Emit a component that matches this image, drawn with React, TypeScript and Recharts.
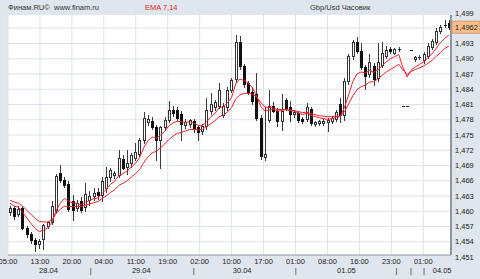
import { ComposedChart, Bar, Line, XAxis, YAxis, CartesianGrid, ReferenceArea } from 'recharts'

// hourly GBP/USD candles, 28.04 05:00 .. 04.05
const OPEN = [
  1.4598, 1.4606, 1.4594, 1.4606, 1.4568, 1.4556, 1.4543, 1.4535, 1.4545, 1.4572,
  1.4578, 1.4602, 1.4675, 1.4662, 1.4654, 1.4620, 1.4606, 1.4620, 1.4608, 1.4622,
  1.4630, 1.4638, 1.4632, 1.4645, 1.4668, 1.4672, 1.4672, 1.4703, 1.4688, 1.4694,
  1.4705, 1.4712, 1.4740, 1.4776, 1.4778, 1.4766, 1.4740, 1.4765, 1.4780, 1.4800,
  1.4800, 1.4792, 1.4770, 1.4772, 1.4778, 1.4765, 1.4758, 1.4768, 1.4797, 1.4806,
  1.4808, 1.4790, 1.4806, 1.4838, 1.4861, 1.4932, 1.4885, 1.4852, 1.4834, 1.4830,
  1.4784, 1.4706, 1.4780, 1.4808, 1.4798, 1.4778, 1.4818, 1.4806, 1.4792, 1.4794,
  1.4782, 1.4782, 1.4802, 1.4772, 1.4773, 1.4774, 1.4775, 1.4778, 1.4782, 1.4810,
  1.4790, 1.4856, 1.4905, 1.4932, 1.4915, 1.4884, 1.4870, 1.4886, 1.4862, 1.4888,
  1.4906, 1.4920, 1.4912, 1.4920, 1.4807, 1.4807, 1.4918, 1.4900, 1.4903, 1.4897,
  1.4906, 1.4924, 1.4932, 1.4954, 1.4966, 1.4970,
]
const HIGH = [
  1.4610, 1.4610, 1.4610, 1.4610, 1.4572, 1.4560, 1.4547, 1.4546, 1.4575, 1.4580,
  1.4620, 1.4674, 1.4691, 1.4668, 1.4660, 1.4632, 1.4622, 1.4628, 1.4655, 1.4640,
  1.4645, 1.4645, 1.4668, 1.4688, 1.4686, 1.4680, 1.4720, 1.4710, 1.4720, 1.4715,
  1.4735, 1.4744, 1.4795, 1.4790, 1.4785, 1.4770, 1.4768, 1.4785, 1.4816, 1.4808,
  1.4806, 1.4798, 1.4782, 1.4782, 1.4782, 1.4770, 1.4772, 1.4822, 1.4832, 1.4818,
  1.4852, 1.4812, 1.4845, 1.4862, 1.4946, 1.4944, 1.4890, 1.4856, 1.4845, 1.4872,
  1.4790, 1.4805, 1.4838, 1.4815, 1.4804, 1.4830, 1.4822, 1.4816, 1.4800, 1.4798,
  1.4786, 1.4812, 1.4806, 1.4778, 1.4780, 1.4782, 1.4784, 1.4788, 1.4800, 1.4822,
  1.4862, 1.4910, 1.4936, 1.4942, 1.4930, 1.4888, 1.4910, 1.4892, 1.4930, 1.4932,
  1.4926, 1.4924, 1.4922, 1.4924, 1.4807, 1.4807, 1.4918, 1.4906, 1.4907, 1.4914,
  1.4930, 1.4938, 1.4960, 1.4966, 1.4976, 1.4976,
]
const LOW = [
  1.4592, 1.4584, 1.4590, 1.4565, 1.4550, 1.4538, 1.4522, 1.4528, 1.4526, 1.4567,
  1.4575, 1.4598, 1.4658, 1.4648, 1.4600, 1.4583, 1.4600, 1.4598, 1.4600, 1.4612,
  1.4622, 1.4625, 1.4620, 1.4638, 1.4660, 1.4665, 1.4668, 1.4684, 1.4674, 1.4688,
  1.4700, 1.4708, 1.4735, 1.4770, 1.4762, 1.4700, 1.4685, 1.4760, 1.4776, 1.4788,
  1.4780, 1.4740, 1.4764, 1.4766, 1.4756, 1.4740, 1.4752, 1.4762, 1.4792, 1.4800,
  1.4803, 1.4786, 1.4800, 1.4834, 1.4855, 1.4880, 1.4845, 1.4830, 1.4810, 1.4780,
  1.4702, 1.4700, 1.4775, 1.4795, 1.4768, 1.4760, 1.4800, 1.4778, 1.4786, 1.4776,
  1.4774, 1.4778, 1.4770, 1.4768, 1.4770, 1.4770, 1.4758, 1.4774, 1.4778, 1.4775,
  1.4780, 1.4850, 1.4900, 1.4912, 1.4880, 1.4840, 1.4865, 1.4848, 1.4856, 1.4884,
  1.4902, 1.4912, 1.4910, 1.4916, 1.4807, 1.4807, 1.4918, 1.4896, 1.4899, 1.4892,
  1.4902, 1.4920, 1.4928, 1.4950, 1.4962, 1.4958,
]
const CLOSE = [
  1.4606, 1.4590, 1.4604, 1.4568, 1.4555, 1.4543, 1.4535, 1.4541, 1.4573, 1.4578,
  1.4610, 1.4670, 1.4662, 1.4652, 1.4605, 1.4602, 1.4616, 1.4603, 1.4633, 1.4630,
  1.4636, 1.4632, 1.4660, 1.4668, 1.4681, 1.4676, 1.4704, 1.4686, 1.4694, 1.4710,
  1.4716, 1.4740, 1.4783, 1.4782, 1.4766, 1.4740, 1.4765, 1.4780, 1.4800, 1.4793,
  1.4784, 1.4772, 1.4775, 1.4779, 1.4762, 1.4756, 1.4768, 1.4800, 1.4810, 1.4815,
  1.4838, 1.4808, 1.4838, 1.4858, 1.4932, 1.4885, 1.4850, 1.4834, 1.4816, 1.4784,
  1.4708, 1.4712, 1.4808, 1.4798, 1.4778, 1.4798, 1.4804, 1.4792, 1.4796, 1.4780,
  1.4778, 1.4805, 1.4774, 1.4776, 1.4777, 1.4778, 1.4779, 1.4784, 1.4796, 1.4790,
  1.4856, 1.4905, 1.4932, 1.4916, 1.4884, 1.4866, 1.4893, 1.4860, 1.4893, 1.4912,
  1.4918, 1.4915, 1.4919, 1.4920, 1.4807, 1.4807, 1.4918, 1.4904, 1.4903, 1.4910,
  1.4926, 1.4934, 1.4955, 1.4963, 1.4966, 1.4962,
]
const EMA7 = [
  1.4616, 1.4610, 1.4608, 1.4598, 1.4587, 1.4576, 1.4566, 1.4560, 1.4563, 1.4567,
  1.4578, 1.4601, 1.4616, 1.4625, 1.4620, 1.4616, 1.4616, 1.4613, 1.4618, 1.4621,
  1.4625, 1.4626, 1.4635, 1.4643, 1.4653, 1.4659, 1.4670, 1.4674, 1.4679, 1.4687,
  1.4694, 1.4706, 1.4725, 1.4739, 1.4746, 1.4744, 1.4750, 1.4757, 1.4768, 1.4774,
  1.4777, 1.4776, 1.4775, 1.4776, 1.4773, 1.4769, 1.4768, 1.4776, 1.4785, 1.4792,
  1.4804, 1.4805, 1.4813, 1.4824, 1.4851, 1.4860, 1.4857, 1.4852, 1.4843, 1.4826,
  1.4806, 1.4797, 1.4799, 1.4800, 1.4797, 1.4798, 1.4800, 1.4798, 1.4797, 1.4793,
  1.4790, 1.4793, 1.4789, 1.4786, 1.4784, 1.4782, 1.4781, 1.4782, 1.4785, 1.4786,
  1.4804, 1.4829, 1.4855, 1.4870, 1.4874, 1.4872, 1.4877, 1.4873, 1.4878, 1.4886,
  1.4894, 1.4900, 1.4904, 1.4908, 1.4883, 1.4864, 1.4878, 1.4884, 1.4889, 1.4894,
  1.4902, 1.4910, 1.4921, 1.4932, 1.4940, 1.4946,
]
const EMA14 = [
  1.4622, 1.4618, 1.4616, 1.4610, 1.4602, 1.4594, 1.4586, 1.4580, 1.4579, 1.4579,
  1.4583, 1.4595, 1.4604, 1.4610, 1.4610, 1.4609, 1.4610, 1.4609, 1.4612, 1.4614,
  1.4617, 1.4619, 1.4625, 1.4630, 1.4637, 1.4642, 1.4651, 1.4655, 1.4660, 1.4667,
  1.4674, 1.4682, 1.4696, 1.4707, 1.4715, 1.4718, 1.4725, 1.4732, 1.4741, 1.4748,
  1.4753, 1.4755, 1.4758, 1.4761, 1.4761, 1.4760, 1.4761, 1.4767, 1.4772, 1.4778,
  1.4786, 1.4789, 1.4795, 1.4804, 1.4821, 1.4829, 1.4832, 1.4832, 1.4830, 1.4825,
  1.4814, 1.4805, 1.4804, 1.4803, 1.4800, 1.4800, 1.4800, 1.4799, 1.4798, 1.4796,
  1.4794, 1.4795, 1.4792, 1.4790, 1.4788, 1.4787, 1.4786, 1.4786, 1.4787, 1.4787,
  1.4796, 1.4811, 1.4827, 1.4839, 1.4845, 1.4848, 1.4854, 1.4855, 1.4860, 1.4867,
  1.4874, 1.4879, 1.4884, 1.4889, 1.4878, 1.4869, 1.4875, 1.4879, 1.4882, 1.4886,
  1.4891, 1.4897, 1.4905, 1.4912, 1.4920, 1.4925,
]

const TIME_LABELS = ['05:00', '13:00', '20:00', '04:00', '11:00', '19:00', '02:00', '10:00',
  '17:00', '01:00', '08:00', '16:00', '23:00', '01:00', '']
const DATE_POS = [9.6, 19.6, 31.6, 44, 55.5, 68.2, 80.2, 92.1, 95.5, 98.6, 102.9]
const DATE_LABELS = ['28.04', '|', '29.04', '|', '30.04', '|', '01.05', '|', '|', '|', '04.05']
const Y_TICKS = [1.451, 1.454, 1.457, 1.46, 1.463, 1.466, 1.469, 1.472, 1.475, 1.478,
  1.481, 1.484, 1.487, 1.49, 1.493, 1.4962, 1.499]
const GRID_Y = [1.454, 1.457, 1.46, 1.463, 1.466, 1.469, 1.472, 1.475, 1.478,
  1.481, 1.484, 1.487, 1.49, 1.493, 1.496]
const LAST_PRICE = 1.4962

const Y_MIN = 1.4514
const Y_MAX = 1.4986
const SLOTS = CLOSE.length
const TIME_TICKS = TIME_LABELS.map((_, k) => (k * SLOTS) / (TIME_LABELS.length - 1))
// one bottom axis carries both rows: hour ticks and date marks
const AXIS_TICKS = [...TIME_TICKS, ...DATE_POS].sort((a, b) => a - b)

const data = CLOSE.map((close, i) => ({
  i, open: OPEN[i], high: HIGH[i], low: LOW[i], close, ema7: EMA7[i], ema14: EMA14[i],
}))

const FONT = "'Liberation Sans', Arial, sans-serif"
const BORDER = '#8d969f'

function Candle(props: any) {
  const { x, y, width, height, payload } = props
  const { open, high, low, close } = payload
  // bar spans Y_MIN..high, so its pixel height gives the scale
  const k = height / (high - Y_MIN)
  const py = (v: number) => y + (high - v) * k
  const cx = Math.round(x + width / 2) + 0.5
  const top = Math.round(py(Math.max(open, close))) + 0.5
  const bot = Math.round(py(Math.min(open, close))) + 0.5
  const up = close >= open
  return (
    <g>
      <line x1={cx} x2={cx} y1={Math.round(py(high))} y2={Math.round(py(low)) + 1} stroke="#3a3a3a" strokeWidth={1} />
      {bot - top < 1 ? (
        <line x1={cx - 1.5} x2={cx + 1.5} y1={top} y2={top} stroke="#222" strokeWidth={1} />
      ) : (
        <rect x={cx - 1} y={top} width={2} height={bot - top}
          fill={up ? '#fff' : '#111'} stroke={up ? '#333' : '#111'} strokeWidth={1} />
      )}
    </g>
  )
}

function PriceTick({ x, y, payload }: any) {
  const v = payload.value
  if (v === LAST_PRICE) {
    return (
      <g>
        <rect x={x + 1} y={y - 6} width={28} height={12} fill="#f7bd8b" stroke="#d99a66" />
        <text x={x + 4} y={y + 2.7} fontSize={7.5} fontFamily={FONT} fill="#222">
          {v.toFixed(4).replace('.', ',')}
        </text>
      </g>
    )
  }
  return (
    <text x={x + 4} y={y + 2.7} fontSize={7.5} fontFamily={FONT} fill="#222">
      {v.toFixed(3).replace('.', ',')}
    </text>
  )
}

function BottomTick({ x, y, payload }: any) {
  const v = payload.value
  const t = TIME_TICKS.indexOf(v)
  const d = DATE_POS.indexOf(v)
  return (
    <g>
      {t >= 0 && (
        <text x={x} y={y + 9.4} textAnchor="middle" fontSize={7.5} fontFamily={FONT} fill="#222">
          {TIME_LABELS[t]}
        </text>
      )}
      {d >= 0 && (
        <text x={x} y={y + 18.4} textAnchor="middle" fontSize={7.5} fontFamily={FONT} fill="#222">
          {DATE_LABELS[d]}
        </text>
      )}
    </g>
  )
}

export default function App() {
  return (
    <div style={{ position: 'absolute', left: 0, top: 0, width: 480, height: 279, background: '#dfe6ed', overflow: 'hidden', fontFamily: FONT }}>
      <div style={{ position: 'absolute', left: 8, top: 3, fontSize: 7.5, color: '#333', lineHeight: '9px' }}>Финам.RU©</div>
      <div style={{ position: 'absolute', left: 54, top: 3, fontSize: 7.5, color: '#333', lineHeight: '9px' }}>www.finam.ru</div>
      <div style={{ position: 'absolute', left: 145, top: 3, fontSize: 7.5, color: '#e8232a', lineHeight: '9px' }}>EMA 7,14</div>
      <div style={{ position: 'absolute', left: 310, top: 3, fontSize: 7.5, color: '#333', lineHeight: '9px' }}>Gbp/Usd Часовик</div>
      <ComposedChart width={480} height={279} data={data} margin={{ top: 15, right: 0, bottom: 0, left: 8 }}>
        <CartesianGrid xAxisId="time" fill="#fff" stroke="#dce3eb" horizontalValues={GRID_Y} verticalValues={TIME_TICKS} />
        <XAxis xAxisId="time" type="number" domain={[0, SLOTS]} allowDataOverflow ticks={AXIS_TICKS}
          interval={0} height={24} tickSize={0} tickMargin={0} tick={<BottomTick />}
          axisLine={{ stroke: BORDER }} />
        <XAxis xAxisId="cat" dataKey="i" type="category" height={0} hide />
        <YAxis orientation="right" width={29} domain={[Y_MIN, Y_MAX]} allowDataOverflow ticks={Y_TICKS}
          interval={0} tickSize={0} tickMargin={0} tick={<PriceTick />}
          axisLine={{ stroke: BORDER, strokeWidth: 2 }} />
        <ReferenceArea xAxisId="time" fill="none" stroke={BORDER} strokeWidth={1} />
        <Bar xAxisId="cat" dataKey={(d: any) => [Y_MIN, d.high]} shape={<Candle />} isAnimationActive={false} />
        <Line xAxisId="cat" dataKey="ema14" stroke="#e8232a" strokeWidth={1} dot={false} isAnimationActive={false} />
        <Line xAxisId="cat" dataKey="ema7" stroke="#e8232a" strokeWidth={1} dot={false} isAnimationActive={false} />
      </ComposedChart>
    </div>
  )
}
